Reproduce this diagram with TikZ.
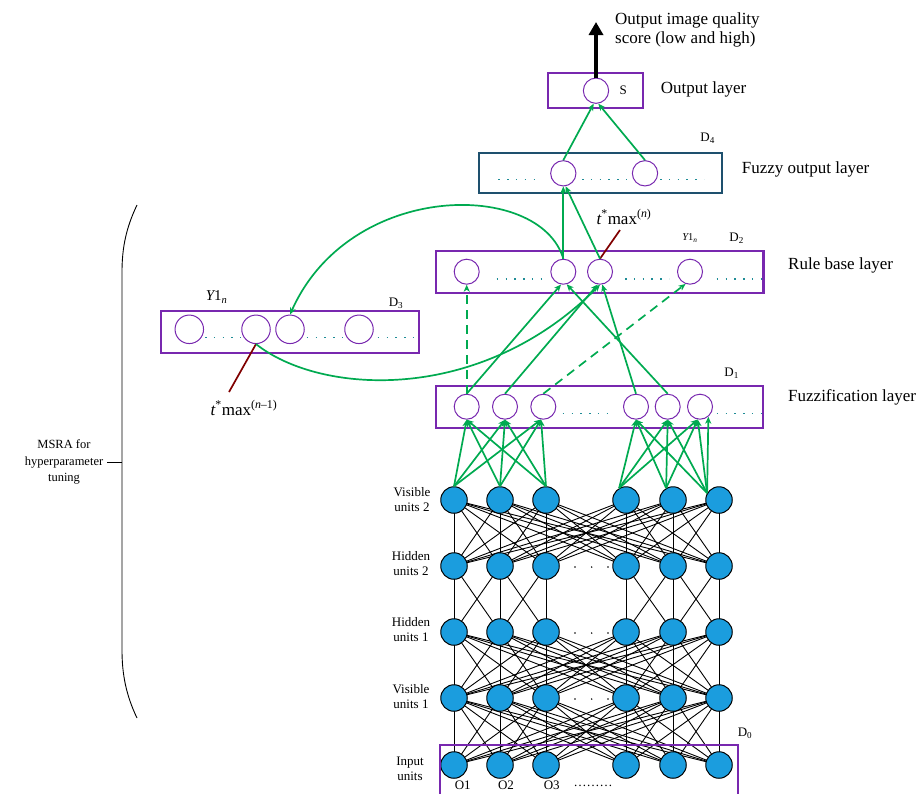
\documentclass[tikz,border=0pt]{standalone}
\usepackage{fontspec}
\setmainfont{Liberation Serif}
\usetikzlibrary{arrows.meta,backgrounds}
\definecolor{purp}{RGB}{120,40,175}
\definecolor{fzb}{RGB}{30,80,110}
\definecolor{grn}{RGB}{0,170,80}
\definecolor{bl}{RGB}{27,157,222}
\definecolor{tl}{RGB}{30,140,150}
\definecolor{dred}{RGB}{128,0,0}
\tikzset{
  pbox/.style={draw=purp,line width=2.3pt,inner sep=0pt},
  fbox/.style={draw=fzb,line width=2.3pt,inner sep=0pt},
  pc/.style={circle,draw=purp,line width=1pt,minimum size=25pt,inner sep=0pt},
  pcb/.style={circle,draw=purp,line width=1pt,minimum size=28.5pt,inner sep=0pt},
  bnode/.style={circle,fill=bl,draw=black,line width=1pt,minimum size=26.5pt,inner sep=0pt},
  net/.style={draw=black,line width=0.9pt},
  garr/.style={draw=grn,line width=1.7pt,-{Stealth[length=7pt,width=6pt,inset=2pt]}},
  gdash/.style={garr,dash pattern=on 9pt off 6pt},
  tdots/.style={draw=tl,line width=1.5pt,dash pattern=on 1.5pt off 7.3pt},
  redl/.style={draw=dred,line width=1.7pt},
  lblbig/.style={font=\fontsize{17}{19.5}\selectfont,inner sep=0pt},
  lblsm/.style={font=\fontsize{13}{15}\selectfont,inner sep=0pt,align=center},
  lbld/.style={font=\fontsize{13}{15}\selectfont,inner sep=0pt},
}
\begin{document}
\begin{tikzpicture}[x=1pt,y=-1pt]
\useasboundingbox (0,0) rectangle (921,793);

% ---------- output layer ----------
\node[pbox,minimum width=95pt,minimum height=35pt] (outbox) at (595.8,90.8) {};
\node[pc,minimum size=25.3pt] (s) at (596,90.7) {};
\node[lbld] (slab) at (623.3,90) {S};
\node[lblbig,anchor=west] (outlab) at (660.7,89) {Output layer};
\coordinate (outtop) at (596,22);
\draw[line width=4pt,-{Triangle[length=13pt,width=14pt]}] (s.north) -- (outtop);
\node[lblbig,anchor=west,align=left] (quality) at (615,30) {Output image quality\\score (low and high)};

% ---------- fuzzy output layer ----------
\node[fbox,minimum width=242.4pt,minimum height=40.6pt] (fobox) at (600.5,173) {};
\node[pc,minimum size=25.3pt] (f1) at (563.3,173.3) {};
\node[pc,minimum size=25.3pt] (f2) at (645,173.3) {};
\draw[tdots] (498.3,179.3) -- (542,179.3);
\draw[tdots] (582,179.3) -- (627,179.3);
\draw[tdots] (660,179.3) -- (704,179.3);
\node[lbld] (d4) at (707.7,138) {D\textsubscript{4}};
\node[lblbig,anchor=west] (folab) at (741.7,169) {Fuzzy output layer};

% ---------- rule base layer ----------
\node[pbox,minimum width=327.3pt,minimum height=42.3pt] (rbox) at (599.7,271.9) {};
\node[pc] (r1) at (466.7,271.7) {};
\node[pc] (r2) at (563.3,271.7) {};
\node[pc] (r3) at (600,271.7) {};
\node[pc] (r4) at (690,271.7) {};
\draw[tdots] (496.7,279) -- (541,279);
\draw[tdots] (625,279) -- (669,279);
\draw[tdots] (716.7,279) -- (761,279);
\node[font=\fontsize{10.5}{12}\selectfont,inner sep=0pt] (y1r) at (690,238) {\itshape Y\upshape 1\textsubscript{\itshape n}};
\node[lbld] (d2) at (736.7,238) {D\textsubscript{2}};
\node[lblbig,anchor=west] (rblab) at (788,265) {Rule base layer};
\node[font=\fontsize{17}{19.5}\selectfont,inner sep=0pt] (tmaxn) at (624,217) {{\itshape t}\textsuperscript{*}max\textsuperscript{(\itshape n\upshape)}};
\coordinate (tmaxnend) at (620,230);
\draw[redl] (r3.north) -- (tmaxnend);

% ---------- D3 layer ----------
\node[pbox,minimum width=258.6pt,minimum height=42.6pt] (d3box) at (290,332) {};
\node[pcb] (dd1) at (189.3,329.3) {};
\node[pcb] (dd2) at (256,329.3) {};
\node[pcb] (dd3) at (290,329.3) {};
\node[pcb] (dd4) at (359,329.3) {};
\draw[tdots] (205,337.7) -- (241,337.7);
\draw[tdots] (306.7,337.7) -- (342,337.7);
\draw[tdots] (377.7,337.7) -- (413,337.7);
\node[font=\fontsize{15}{17}\selectfont,inner sep=0pt] (y1d) at (216.7,297) {\itshape Y\upshape 1\textsubscript{\itshape n}};
\node[lbld] (d3) at (396,303) {D\textsubscript{3}};
\node[font=\fontsize{17}{19.5}\selectfont,inner sep=0pt] (tmaxn1) at (244,408) {{\itshape t}\textsuperscript{*}max\textsuperscript{(\itshape n\upshape–1)}};
\coordinate (tmaxn1end) at (229,392);
\draw[redl] (dd2.south) -- (tmaxn1end);

% ---------- fuzzification layer ----------
\node[pbox,minimum width=327pt,minimum height=42.3pt] (zbox) at (599.5,406.9) {};
\node[pc] (z1) at (466.7,406.7) {};
\node[pc] (z2) at (505,406.7) {};
\node[pc] (z3) at (543.3,406.7) {};
\node[pc] (z4) at (636,406.7) {};
\node[pc] (z5) at (667.7,406.7) {};
\node[pc] (z6) at (700,406.7) {};
\draw[tdots] (562.7,413.3) -- (607,413.3);
\draw[tdots] (716.7,413.3) -- (762,413.3);
\node[lbld] (d1) at (731.7,373.3) {D\textsubscript{1}};
\node[lblbig,anchor=west] (fzlab) at (788,397) {Fuzzification layer};

% ---------- blue network ----------
\foreach \r/\y in {1/500,2/566,3/632,4/698,5/765}{
  \foreach \c/\x in {0/454,1/500,2/546,3/626,4/673,5/719}{
    \node[bnode] (b\r\c) at (\x,\y) {};
  }
}
\begin{scope}[on background layer]
\foreach \c in {0,...,5}{
  \foreach \d in {0,...,5}{
    \draw[net] (b1\c.center) -- (b2\d.center);
    \draw[net] (b3\c.center) -- (b4\d.center);
    \draw[net] (b4\c.center) -- (b5\d.center);
  }
  \draw[net] (b2\c.center) -- (b3\c.center);
}
\foreach \a/\b in {0/1,1/0,1/2,2/1,3/4,4/3,4/5,5/4}{
  \draw[net] (b2\a.center) -- (b3\b.center);
}
\end{scope}
\foreach \y in {567,633,699}{
  \foreach \x in {575,591.7,608}{
    \fill (\x,\y) circle (0.8pt);
  }
}
\node[lblsm] (lv2) at (412,500) {Visible\\units 2};
\node[lblsm] (lh2) at (411,564) {Hidden\\units 2};
\node[lblsm] (lh1) at (411,630) {Hidden\\units 1};
\node[lblsm] (lv1) at (411,697) {Visible\\units 1};
\node[lblsm] (lin) at (410,769) {Input\\units};

% input box D0
\draw[draw=purp,line width=2.3pt] (440,800) -- (440,745) -- (738,745) -- (738,800);
\node[lbld] (d0) at (745,733) {D\textsubscript{0}};
\node[lbld] (o1) at (462.7,785.5) {O1};
\node[lbld] (o2) at (506,785.5) {O2};
\node[lbld] (o3) at (551.7,785.5) {O3};
\node[lbld] (odots) at (593,785.5) {………};

% ---------- green arrows: blue -> fuzzification ----------
\foreach \s in {b10.north,b11.north,b12.north}{
  \foreach \t in {z1.south,z2.south,z3.-100}{
    \draw[garr] (\s) -- (\t);
  }
}
\foreach \s in {b13.120,b14.120,b15.150}{
  \foreach \t in {z4.south,z5.south,z6.-100}{
    \draw[garr] (\s) -- (\t);
  }
}
\draw[garr] (b15.150) -- (z6.-50);

% fuzzification -> rule base
\draw[gdash] (z1.north) -- (r1.south);
\draw[garr] (z1.north) -- (r2.-100);
\draw[garr] (z2.north) -- (r3.-100);
\draw[gdash] (z3.north) -- (r4.-110);
\draw[garr] (z4.north) -- (r3.-80);
\draw[garr] (z5.north) -- (r2.-75);

% rule base -> fuzzy output -> output
\draw[garr] (r2.north) -- (f1.south);
\draw[garr] (r3.north) -- (f1.-80);
\draw[garr] (f1.north) -- (s.260);
\draw[garr] (f2.north) -- (s.280);

% curved feedback arrows
\draw[garr] (r2.north) .. controls (540,180) and (350,180) .. (dd3.north);
\draw[garr] (dd2.south) .. controls (320,395) and (480,405) .. (r3.south);

% ---------- brace ----------
\draw[line width=0.9pt] (137,205) .. controls (126,228) and (122,248) .. (122,272) -- (122,650) .. controls (122,674) and (126,695) .. (137,718);
\coordinate (bracetick) at (107,462);
\draw[line width=0.9pt] (bracetick) -- (122,462);
\node[font=\fontsize{12.5}{16.5}\selectfont,inner sep=0pt,align=center] (msra) at (64,462) {MSRA for\\hyperparameter\\tuning};
\end{tikzpicture}
\end{document}
